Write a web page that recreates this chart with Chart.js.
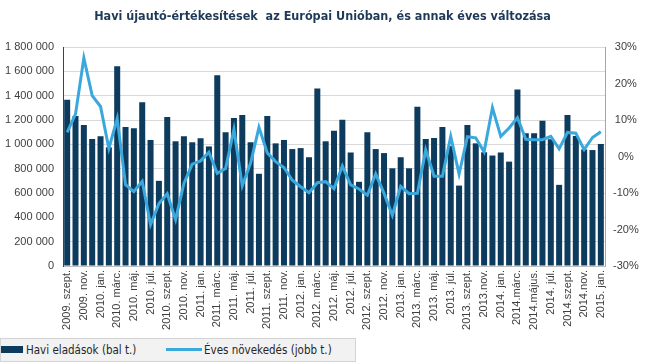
<!DOCTYPE html>
<html>
<head>
<meta charset="utf-8">
<script src="https://cdn.jsdelivr.net/npm/chart.js@4.4.1/dist/chart.umd.min.js"></script>
<style>
  html, body { margin: 0; padding: 0; background: #fff; }
  #wrap { position: relative; width: 645px; height: 364px; }
  #legend {
    position: absolute; left: 0; top: 338px; width: 354px; height: 22px;
    background: #f2f2f2; border: 1px solid #d4d4d4;
    font: 11.5px "DejaVu Sans Condensed", sans-serif; color: #262626;
  }
  #legend .sw { position: absolute; }
  #legend .tx { position: absolute; top: 4px; white-space: nowrap; }
</style>
</head>
<body>
<div id="wrap">
  <canvas id="lienzo" width="645" height="364"></canvas>
  <div id="legend">
    <div class="sw" style="left:0;top:7px;width:22px;height:7px;background:#0d3b5e"></div>
    <div class="tx" style="left:25px">Havi eladások (bal t.)</div>
    <div class="sw" style="left:165px;top:9px;width:36px;height:3px;background:#3aa8dc"></div>
    <div class="tx" style="left:203px">Éves növekedés (jobb t.)</div>
  </div>
</div>
<script>
"use strict";

// Kategóriák: 2009. szept. – 2015. jan. (minden második címke látszik)
const honapCimkek = [
  "2009. szept.", "", "2009. nov.", "", "2010. jan.", "", "2010. márc.", "", "2010. máj.", "", "2010. júl.", "",
  "2010. szept.", "", "2010. nov.", "", "2011. jan.", "", "2011. márc.", "", "2011. máj.", "", "2011. júl.", "",
  "2011. szept.", "", "2011. nov.", "", "2012. jan.", "", "2012. márc.", "", "2012. máj.", "", "2012. júl.", "",
  "2012. szept.", "", "2012. nov.", "", "2013. jan.", "", "2013. márc.", "", "2013. máj.", "", "2013. júl.", "",
  "2013. szept.", "", "2013.nov.", "", "2014. jan.", "", "2014.márc.", "", "2014.május.", "", "2014. júl.", "",
  "2014.szept.", "", "2014.nov.", "", "2015. jan."
];

// Havi eladások (darab)
const haviEladasok = [
  1367000, 1233000, 1158000, 1044000, 1067000, 975000, 1642000, 1142000, 1133000, 1345000,
  1036000, 700000, 1225000, 1025000, 1067000, 1017000, 1050000, 983000, 1567000, 1100000,
  1217000, 1242000, 1017000, 758000, 1233000, 1008000, 1036000, 961000, 969000, 894000,
  1458000, 1025000, 1111000, 1203000, 933000, 692000, 1100000, 961000, 928000, 803000,
  894000, 803000, 1308000, 1044000, 1053000, 1142000, 986000, 661000, 1158000, 1008000,
  935000, 908000, 933000, 858000, 1450000, 1092000, 1092000, 1194000, 1042000, 667000,
  1242000, 1069000, 958000, 953000, 1003000
];

// Éves növekedés (%)
const evesNovekedes = [
  6.6, 11.6, 27.0, 16.7, 13.7, 2.2, 10.4, -7.7, -9.6, -6.8,
  -18.7, -12.9, -10.2, -17.3, -7.4, -2.1, -1.2, 1.2, -4.6, -3.3,
  7.4, -8.0, -1.8, 8.0, 1.0, -1.4, -3.0, -6.5, -8.3, -9.9,
  -7.2, -6.9, -8.8, -2.6, -7.8, -8.9, -10.6, -4.8, -10.1, -16.1,
  -8.2, -10.2, -10.1, 1.8, -5.4, -5.4, 5.5, -4.8, 5.4, 5.1,
  1.3, 13.4, 5.5, 7.8, 10.6, 4.7, 4.6, 4.6, 5.5, 2.1,
  6.6, 6.4, 1.9, 5.2, 6.8
];

const balTengelyCimkek = [0, 200000, 400000, 600000, 800000, 1000000, 1200000, 1400000, 1600000, 1800000];
const jobbTengelyCimkek = [-30, -20, -10, 0, 10, 20, 30];

const szovegSzin = "#404040";
const tengelyBetu = { family: "'Liberation Sans', Arial, sans-serif", size: 11 };

function ezres(v) {
  return String(v).replace(/\B(?=(\d{3})+(?!\d))/g, " ");
}

const lienzo = document.getElementById("lienzo").getContext("2d");

new Chart(lienzo, {
  type: "bar",
  data: {
    labels: honapCimkek,
    datasets: [
      {
        type: "line",
        label: "Éves növekedés (jobb t.)",
        data: evesNovekedes,
        yAxisID: "yJobb",
        borderColor: "#3aa8dc",
        backgroundColor: "#3aa8dc",
        borderWidth: 3,
        pointRadius: 0,
        tension: 0,
        order: 0,
      },
      {
        label: "Havi eladások (bal t.)",
        data: haviEladasok,
        yAxisID: "yBal",
        backgroundColor: "#0d3b5e",
        categoryPercentage: 1,
        barPercentage: 0.72,
        order: 1,
      },
    ],
  },
  options: {
    responsive: false,
    animation: false,
    layout: { padding: { left: 0, right: 0, top: 0, bottom: 27 } },
    plugins: {
      legend: { display: false },
      tooltip: { enabled: false },
      title: {
        display: true,
        text: "Havi újautó-értékesítések  az Európai Unióban, és annak éves változása",
        color: "#1f3a58",
        font: { family: "'DejaVu Sans Condensed', sans-serif", size: 12.5, weight: "bold" },
        padding: { top: 9, bottom: 23 },
      },
    },
    scales: {
      x: {
        grid: { display: false, drawTicks: false },
        border: { color: "#bfbfbf" },
        ticks: {
          autoSkip: false,
          minRotation: 90,
          maxRotation: 90,
          padding: 4,
          color: szovegSzin,
          font: tengelyBetu,
        },
        afterFit(s) { s.height = 71; },
      },
      yBal: {
        position: "left",
        min: 0,
        max: 1800000,
        afterBuildTicks(s) { s.ticks = balTengelyCimkek.map((v) => ({ value: v })); },
        grid: { color: "#d9d9d9", drawTicks: false },
        border: { color: "#404040" },
        ticks: { padding: 9, color: szovegSzin, font: tengelyBetu, callback: (v) => ezres(v) },
        afterFit(s) { s.width = 63; },
      },
      yJobb: {
        position: "right",
        min: -30,
        max: 30,
        afterBuildTicks(s) { s.ticks = jobbTengelyCimkek.map((v) => ({ value: v })); },
        grid: { display: false, drawTicks: false },
        border: { color: "#a6a6a6" },
        ticks: { padding: 8, crossAlign: "center", color: szovegSzin, font: tengelyBetu, callback: (v) => v + "%" },
        afterFit(s) { s.width = 40; },
      },
    },
  },
});
</script>
</body>
</html>
